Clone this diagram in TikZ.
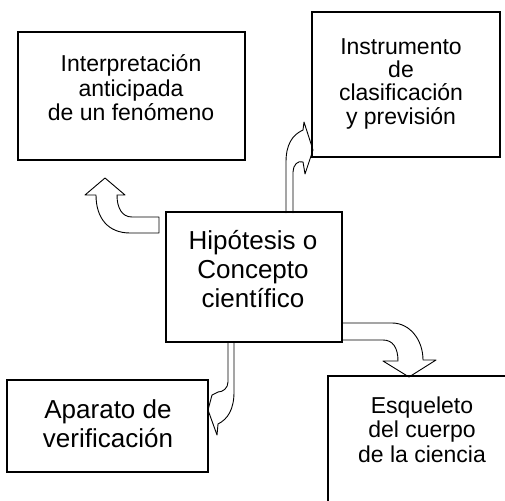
\documentclass[tikz,border=0pt]{standalone}
\usepackage{fontspec}
\setmainfont{Liberation Sans}
\usetikzlibrary{positioning}
\tikzset{
  box/.style={draw, line width=1.2pt, inner sep=0pt, rectangle},
  txt/.style={align=center, inner sep=0pt, anchor=base, font=\fontsize{23}{24}\selectfont},
  bigtxt/.style={txt, font=\fontsize{26}{28.8}\selectfont},
  blockarrow/.style={draw, fill=white, line width=0.9pt, line join=round},
}

\begin{document}
\begin{tikzpicture}[x=1pt, y=-1pt]
  \useasboundingbox (0,0) rectangle (505,500);

  % Block arrows
  \draw[blockarrow] (159,217) -- (132,217) .. controls (122,217) and (117,208) .. (117,195)
    -- (125,195) -- (105,178) -- (85,195) -- (96,195)
    .. controls (96,218) and (108,233) .. (130,233) -- (159,233) -- cycle;
  \draw[blockarrow] (286,213) -- (286,162) .. controls (286,145) and (292,135) .. (303,130)
    -- (304,122) -- (313,150) -- (305,174) -- (303,162)
    .. controls (298,160) and (293,165) .. (293,172) -- (293,213);
  \draw[blockarrow] (234,342) -- (234,392) .. controls (234,409) and (228,419) .. (218,424)
    -- (217,435) -- (208,410) -- (212,395) -- (218,392)
    .. controls (223,392) and (228,388) .. (228,382) -- (228,342);
  \draw[blockarrow] (342,323) -- (392,323) .. controls (410,323) and (423,340) .. (423,360)
    -- (436,360) -- (409,377) -- (383,361) -- (398,361)
    .. controls (398,348) and (393,340) .. (383,340) -- (342,340) -- cycle;

  % Boxes
  \node[box, minimum width=227pt, minimum height=128pt] (interp) at (131.5,96) {};
  \node[box, minimum width=188pt, minimum height=145pt] (instr) at (406,84.5) {};
  \node[box, minimum width=176pt, minimum height=130pt] (hip) at (254,277) {};
  \node[box, minimum width=201pt, minimum height=92pt] (apar) at (107.5,426) {};
  \node[box, minimum width=188pt, minimum height=144pt] (esq) at (422,448) {};

  % Texts (anchored at the last line)
  \node[txt] (interp-txt) at (131,120) {Interpretación\\anticipada\\de un fenómeno};
  \node[txt, font=\fontsize{23}{23.3}\selectfont] (instr-txt) at (401,124) {Instrumento\\de\\clasificación\\y previsión};
  \node[bigtxt] (hip-txt) at (253,307) {Hipótesis o\\Concepto\\científico};
  \node[bigtxt] (apar-txt) at (108,447) {Aparato de\\verificación};
  \node[txt, font=\fontsize{23}{24.5}\selectfont] (esq-txt) at (422,462) {Esqueleto\\del cuerpo\\de la ciencia};
\end{tikzpicture}
\end{document}
